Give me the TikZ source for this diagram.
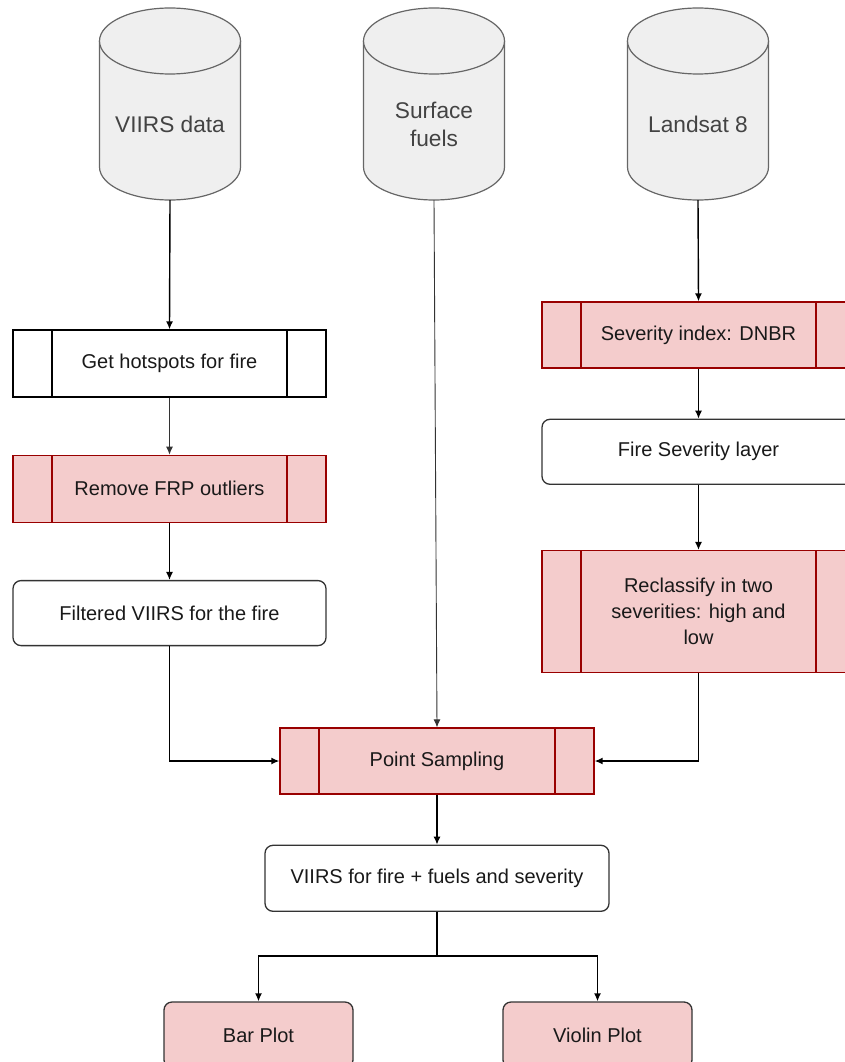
\documentclass[tikz,border=0pt]{standalone}
\usepackage{fontspec}
\setmainfont{Liberation Sans}
\usetikzlibrary{arrows.meta,positioning}

\definecolor{pinkfill}{HTML}{F4CCCC}
\definecolor{darkred}{HTML}{990000}
\definecolor{dbgray}{HTML}{EFEFEF}
\definecolor{dbedge}{HTML}{666666}
\definecolor{dbink}{HTML}{434343}

\begin{document}
\begin{tikzpicture}[x=1pt, y=-1pt,
  proc/.style={draw=#1, line width=1.3pt, minimum width=313pt, minimum height=67pt, inner sep=0pt,
    align=center, text=black!90, font=\fontsize{20}{26}\selectfont,
    path picture={\draw[#1, line width=1.3pt]
      ([xshift=39pt]path picture bounding box.north west) -- ([xshift=39pt]path picture bounding box.south west)
      ([xshift=-39pt]path picture bounding box.north east) -- ([xshift=-39pt]path picture bounding box.south east);}},
  proc/.default=black,
  redproc/.style={proc=darkred, fill=pinkfill},
  rbox/.style={draw=black!80, line width=1.3pt, rounded corners=8pt, minimum width=313pt, minimum height=65pt,
    inner sep=0pt, align=center, text=black!90, font=\fontsize{20}{26}\selectfont},
  plotbox/.style={rbox, fill=pinkfill, minimum width=189pt, minimum height=66pt},
  dbnode/.style={minimum height=152pt, inner sep=0pt, align=center, text=dbink, font=\fontsize{22.7}{28}\selectfont},
  arr/.style={-{Latex[length=8pt,width=7pt]}, line width=1.4pt},
  thinarr/.style={-{Latex[length=8pt,width=7pt]}, line width=0.9pt, black!80}
]
\useasboundingbox (0,0) rectangle (845,1062);

% data sources
\foreach \cx/\nm/\txt in {170/viirs/VIIRS data, 434/fuels/{Surface\\fuels}, 698/landsat/Landsat 8} {
  \fill[dbgray] (\cx-70.5,41) rectangle (\cx+70.5,167) (\cx,167) ellipse[x radius=70.5pt, y radius=33pt];
  \draw[dbedge, line width=1.2pt] (\cx-70.5,41) -- (\cx-70.5,167)
    arc[start angle=180, end angle=360, x radius=70.5pt, y radius=33pt] -- (\cx+70.5,41);
  \draw[dbedge, line width=1.2pt, fill=dbgray] (\cx,41) ellipse[x radius=70.5pt, y radius=33pt];
  \node[dbnode] (\nm) at (\cx,124) {\txt};
}

% VIIRS branch
\node[proc] (hotspots) at (169.5,363.5) {Get hotspots for fire};
\node[redproc, below=57pt of hotspots] (frp) {Remove FRP outliers};
\node[rbox, below=57pt of frp] (filtered) {Filtered VIIRS for the fire};

% Landsat branch
\node[redproc, minimum height=66pt] (dnbr) at (698.5,335) {Severity index: DNBR};
\node[rbox, below=50pt of dnbr] (sevlayer) {Fire Severity layer};
\node[redproc, minimum height=122pt, below=65pt of sevlayer] (reclass) {Reclassify in two\\severities: high and\\low};

% merge and outputs
\node[redproc, minimum width=314pt, minimum height=66pt] (sampling) at (437,761) {Point Sampling};
\node[rbox, minimum width=344pt, minimum height=66pt, below=50pt of sampling] (merged) {VIIRS for fire + fuels and severity};
\node[plotbox] (barplot) at (258.5,1035) {Bar Plot};
\node[plotbox] (violin) at (597.5,1035) {Violin Plot};
\coordinate (split) at (437,956);

\draw[arr] (viirs.south) -- (hotspots.north);
\draw[thinarr] (hotspots) -- (frp);
\draw[arr] (frp) -- (filtered);
\draw[arr] (filtered.south) |- (sampling.west);
\draw[thinarr] (fuels.south) -- (sampling.north);
\draw[arr] (landsat.south) -- (dnbr.north);
\draw[arr] (dnbr) -- (sevlayer);
\draw[arr] (sevlayer) -- (reclass);
\draw[arr] (reclass.south) |- (sampling.east);
\draw[arr] (sampling) -- (merged);
\draw[line width=1.4pt] (merged.south) -- (split);
\draw[arr] (split) -| (barplot.north);
\draw[arr] (split) -| (violin.north);

\end{tikzpicture}
\end{document}
